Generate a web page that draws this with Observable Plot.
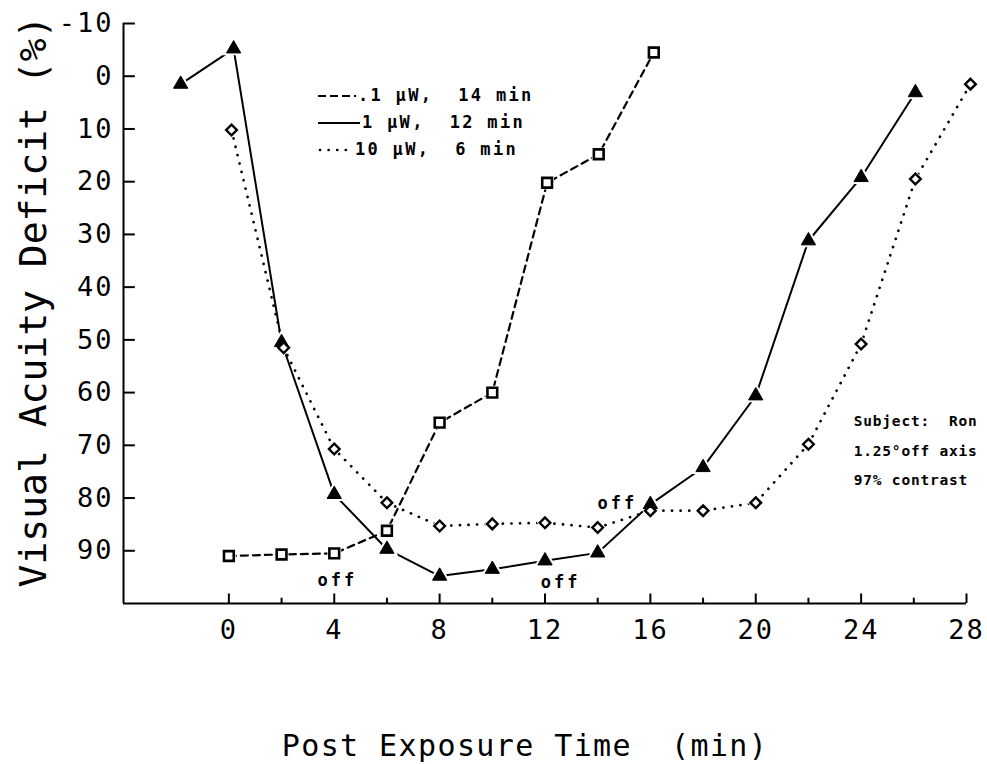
<!DOCTYPE html>
<html>
<head>
<meta charset="utf-8">
<script src="https://cdn.jsdelivr.net/npm/d3@7"></script>
<script src="https://cdn.jsdelivr.net/npm/@observablehq/plot@0.6"></script>
<style>
  html, body { margin: 0; padding: 0; background: #fff; }
  #wrap { position: relative; width: 987px; height: 764px; }
  #legend { position: absolute; left: 318px; top: 0; font-family: "DejaVu Sans Mono", monospace; font-weight: bold; font-size: 17px; letter-spacing: 2.3px; color: #000; }
  #legend .row { position: absolute; left: 0; white-space: pre; display: flex; align-items: center; height: 20px; }
  #legend svg { display: block; margin-right: 2px; }
  g[aria-label="x-axis tick label"] text, g[aria-label="y-axis tick label"] text { letter-spacing: 2px; }
</style>
</head>
<body>
<div id="wrap"><div id="legend"></div></div>
<script>
// ---- data ----
const timeLow = [0, 2, 4, 6, 8, 10, 12.08, 14.04, 16.13];
const deficitLow = [91, 90.7, 90.5, 86.2, 65.7, 60, 20.2, 14.8, -4.5];

const timeMid = [-1.83, 0.18, 2, 4, 6, 8, 10, 12, 14, 16, 18, 20, 22, 24, 26.06];
const deficitMid = [1.5, -5.2, 50.5, 79.3, 89.7, 94.8, 93.5, 91.9, 90.4, 81.2, 74.2, 60.6, 31.2, 19.2, 3.1];

const timeHigh = [0.1, 2.08, 4, 6, 8, 10, 12, 14, 16, 18, 20, 22, 24, 26.06, 28.15];
const deficitHigh = [10.2, 51.5, 70.7, 80.9, 85.3, 84.9, 84.7, 85.6, 82.4, 82.4, 80.9, 69.8, 50.8, 19.5, 1.5];

const seriesLabels = [".1 \u00b5W,  14 min", "1 \u00b5W,  12 min", "10 \u00b5W,  6 min"];

const xMajorTicks = [0, 4, 8, 12, 16, 20, 24, 28];
const xMinorTicks = [2, 6, 10, 14, 18, 22, 26];
const yTicks = [-10, 0, 10, 20, 30, 40, 50, 60, 70, 80, 90];

const xTitle = "Post Exposure Time  (min)";
const yTitle = "Visual Acuity Deficit (%)";

const offTimes = [4.12, 12.59, 14.75];
const offLevels = [95.6, 96.0, 81.0];
const offLabel = "off";

const subjectLines = ["Subject:  Ron", "1.25\u00b0off axis", "97% contrast"];
const subjectTime = 23.72;
const subjectLevels = [65.5, 71.2, 76.7];

// ---- build tables ----
const low = timeLow.map((t, i) => ({t, v: deficitLow[i]}));
const mid = timeMid.map((t, i) => ({t, v: deficitMid[i]}));
const high = timeHigh.map((t, i) => ({t, v: deficitHigh[i]}));
const offNotes = offTimes.map((t, i) => ({t, v: offLevels[i], s: offLabel}));
const subjectNotes = subjectLines.map((s, i) => ({t: subjectTime, v: subjectLevels[i], s}));

const FONT = "DejaVu Sans Mono";
const xMin = -4, xMax = 28, yMin = -10, yMax = 100;

const chart = Plot.plot({
  width: 987,
  height: 764,
  marginTop: 23,
  marginBottom: 161,
  marginLeft: 123,
  marginRight: 21,
  style: {fontFamily: FONT, background: "#fff", color: "#000", overflow: "visible"},
  x: {domain: [xMin, xMax]},
  y: {domain: [yMin, yMax], reverse: true},
  marks: [
    // axes frame lines
    Plot.ruleX([xMin], {stroke: "#000", strokeWidth: 2}),
    Plot.ruleY([yMax], {stroke: "#000", strokeWidth: 2}),
    // inward ticks
    Plot.ruleY(yTicks, {y: d => d, x1: xMin, x2: xMin + 0.45, stroke: "#000", strokeWidth: 2}),
    Plot.ruleX(xMajorTicks, {x: d => d, y1: yMax, y2: yMax - 1.8, stroke: "#000", strokeWidth: 2}),
    Plot.ruleX(xMinorTicks, {x: d => d, y1: yMax, y2: yMax - 1.0, stroke: "#000", strokeWidth: 2}),
    // tick labels
    Plot.axisX(xMajorTicks, {tickSize: 0, tickPadding: 16, fontSize: 27, label: null}),
    Plot.axisY(yTicks, {tickSize: 0, tickPadding: 10, fontSize: 27, label: null,
      tickFormat: d => (d < 0 ? "-" + Math.abs(d) : String(d))}),
    // titles
    Plot.text([xTitle], {text: d => d, frameAnchor: "bottom", textAnchor: "middle", lineAnchor: "middle", dx: -20, dy: 143, fontSize: 30, fill: "#000"}),
    Plot.text([yTitle], {text: d => d, frameAnchor: "left", textAnchor: "middle", lineAnchor: "middle", rotate: -90, dx: -90, dy: -12, fontSize: 38, fill: "#000"}),
    // series lines
    Plot.line(low, {x: "t", y: "v", stroke: "#000", strokeWidth: 2.2, strokeDasharray: "7,5"}),
    Plot.line(mid, {x: "t", y: "v", stroke: "#000", strokeWidth: 2}),
    Plot.line(high, {x: "t", y: "v", stroke: "#000", strokeWidth: 2.7, strokeDasharray: "0.1,8.5", strokeLinecap: "round"}),
    // halos to give small gaps around markers
    Plot.dot(mid, {x: "t", y: "v", symbol: "triangle", r: 5.2, fill: "#fff", stroke: "#fff", strokeWidth: 5}),
    Plot.dot(low, {x: "t", y: "v", symbol: "square", r: 5.5, fill: "#fff", stroke: "#fff", strokeWidth: 4}),
    Plot.dot(high, {x: "t", y: "v", symbol: "diamond2", r: 4.8, fill: "#fff", stroke: "#fff", strokeWidth: 4}),
    // markers
    Plot.dot(mid, {x: "t", y: "v", symbol: "triangle", r: 5.3, fill: "#000", stroke: "#000", strokeWidth: 1}),
    Plot.dot(low, {x: "t", y: "v", symbol: "square", r: 5.5, fill: "#fff", stroke: "#000", strokeWidth: 2.6}),
    Plot.dot(high, {x: "t", y: "v", symbol: "diamond2", r: 4.8, fill: "#fff", stroke: "#000", strokeWidth: 2.4}),
    // annotations
    Plot.text(offNotes, {x: "t", y: "v", text: "s", fontSize: 17, fontWeight: "bold", fill: "#000"}),
    Plot.text(subjectNotes, {x: "t", y: "v", text: "s", textAnchor: "start", fontSize: 14.5, fontWeight: "bold", fill: "#000"})
  ]
});

document.getElementById("wrap").prepend(chart);

// letter spacing to imitate the plotter lettering
const spacing = new Map([[offLabel, "3px"], [xTitle, "1.4px"]]);
subjectLines.forEach(s => spacing.set(s, "0.8px"));
d3.select(chart).selectAll("text").each(function () {
  const ls = spacing.get(this.textContent);
  if (ls) this.style.letterSpacing = ls;
});

// ---- legend overlay ----
const legendStyles = [
  {w: 38, dash: "8,4", width: 2.2, cap: "butt"},
  {w: 42, dash: null, width: 2, cap: "butt"},
  {w: 35, dash: "0.1,8.5", width: 2.7, cap: "round"}
];
const legendRowCenters = [95, 122, 149];
const legend = d3.select("#legend");
seriesLabels.forEach((lab, i) => {
  const st = legendStyles[i];
  const row = legend.append("div").attr("class", "row").style("top", (legendRowCenters[i] - 10) + "px");
  const svg = row.append("svg").attr("width", st.w).attr("height", 20);
  svg.append("line").attr("x1", st.cap === "round" ? 2 : 0).attr("x2", st.w).attr("y1", 11).attr("y2", 11)
    .attr("stroke", "#000").attr("stroke-width", st.width)
    .attr("stroke-dasharray", st.dash).attr("stroke-linecap", st.cap);
  row.append("span").text(lab);
});
</script>
</body>
</html>
